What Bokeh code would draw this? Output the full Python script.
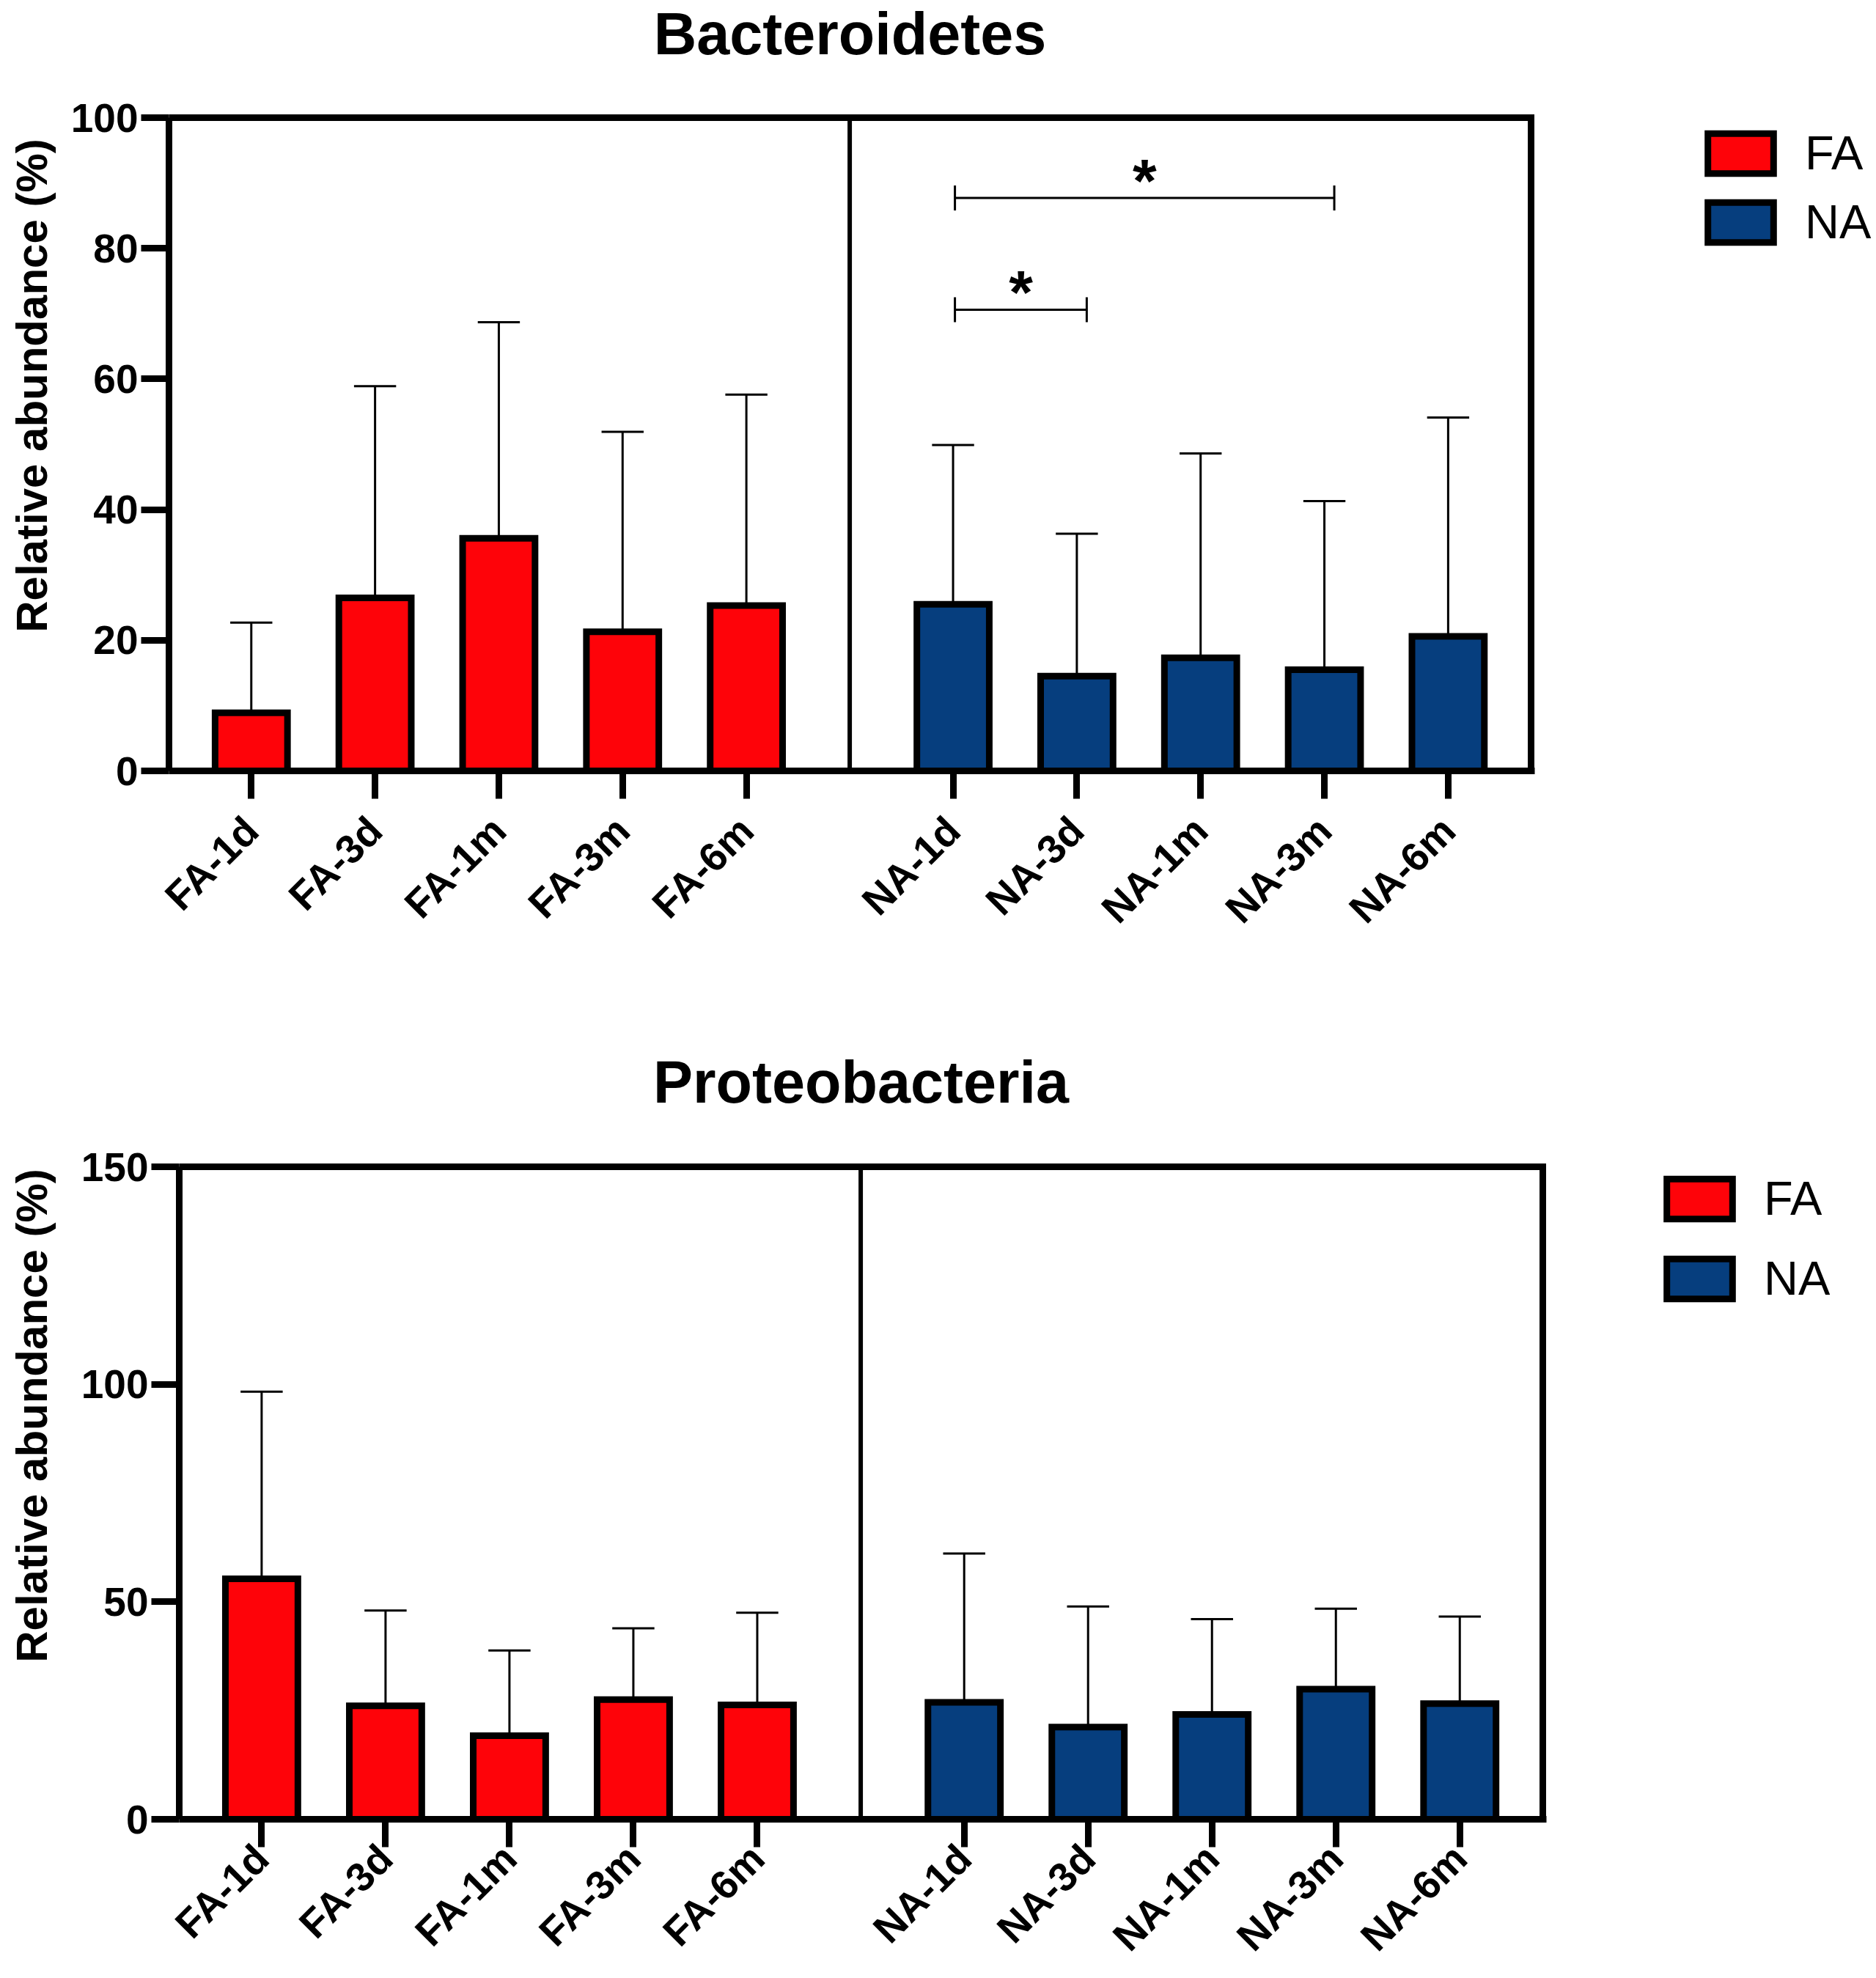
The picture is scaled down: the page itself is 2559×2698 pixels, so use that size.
import math
from bokeh.plotting import figure
from bokeh.models import Range1d, FixedTicker, Legend, LegendItem
from bokeh.embed import file_html
from bokeh.resources import INLINE
from bokeh.core.properties import value

# ---------------- data ----------------
fa_labels = ["FA-1d", "FA-3d", "FA-1m", "FA-3m", "FA-6m"]
na_labels = ["NA-1d", "NA-3d", "NA-1m", "NA-3m", "NA-6m"]

bact_fa_mean = [8.9, 26.5, 35.6, 21.3, 25.3]
bact_fa_upper = [22.7, 58.9, 68.7, 51.9, 57.6]
bact_na_mean = [25.5, 14.5, 17.3, 15.5, 20.6]
bact_na_upper = [49.9, 36.3, 48.6, 41.3, 54.1]

prot_fa_mean = [55.3, 26.1, 19.2, 27.5, 26.3]
prot_fa_upper = [98.3, 48.0, 38.8, 43.9, 47.5]
prot_na_mean = [26.9, 21.2, 24.1, 29.9, 26.6]
prot_na_upper = [61.1, 48.9, 46.0, 48.4, 46.6]

bact_yticks = [0, 20, 40, 60, 80, 100]
prot_yticks = [0, 50, 100, 150]

# significance brackets (indices into NA group), bracket height, label
bact_sig_from = [0, 0]
bact_sig_to = [3, 1]
bact_sig_y = [87.7, 70.6]
bact_sig_text = ["*", "*"]

legend_labels = ["FA", "NA"]

RED = "#FE0309"
BLUE = "#063E7E"
FONT = "Liberation Sans"

# ---------------- layout constants ----------------
NA_START = 5.67
fa_x = [float(i) for i in range(len(fa_labels))]
na_x = [round(NA_START + i, 2) for i in range(len(na_labels))]
divider_x = (fa_x[-1] + na_x[0]) / 2.0
X_START, X_BORDER = -0.665, 10.34
BAR_W = 0.585
CAP_W = 0.34
FIG_W = 2559
TEXT_SHIFT = 30        # px correction for text baseline placement


def make_panel(title, fa_mean, fa_upper, na_mean, na_upper, yticks,
               height, mb_left, mb_bottom, box_px_w, plot_px_h, above_px,
               title_above_px, xlabel_standoff, axis_label_standoff,
               leg_x, leg_y, leg_spacing, sig=None):
    ymax = yticks[-1]
    frame_w = FIG_W - mb_left
    ppu_x = box_px_w / (X_BORDER - X_START)
    x_end = X_START + frame_w / ppu_x
    ppu_y = plot_px_h / ymax
    y_end = ymax + above_px / ppu_y

    p = figure(width=FIG_W, height=height, output_backend="svg",
               toolbar_location=None,
               x_range=Range1d(X_START, x_end), y_range=Range1d(0, y_end),
               min_border_left=mb_left, min_border_right=0,
               min_border_top=0, min_border_bottom=mb_bottom)
    p.xgrid.visible = False
    p.ygrid.visible = False
    p.outline_line_color = None
    p.background_fill_color = "white"
    p.border_fill_color = "white"

    # title (centered over the plot box)
    p.text(x=[(X_START + X_BORDER) / 2],
           y=[ymax + (title_above_px + TEXT_SHIFT) / ppu_y],
           text=[title], text_font=value(FONT), text_font_size="81px",
           text_font_style="bold", text_align="center", text_baseline="alphabetic",
           text_color="black")

    # box: top and right borders
    p.segment(x0=[X_START], y0=[ymax], x1=[X_BORDER], y1=[ymax],
              line_color="black", line_width=9, line_cap="square")
    p.segment(x0=[X_BORDER], y0=[0], x1=[X_BORDER], y1=[ymax],
              line_color="black", line_width=9, line_cap="square")
    # divider between groups
    p.segment(x0=[divider_x], y0=[0], x1=[divider_x], y1=[ymax],
              line_color="black", line_width=6)

    bar_renderers = []
    for xs, mean, upper, color in ((fa_x, fa_mean, fa_upper, RED),
                                   (na_x, na_mean, na_upper, BLUE)):
        p.segment(x0=xs, y0=mean, x1=xs, y1=upper,
                  line_color="black", line_width=3)
        p.segment(x0=[x - CAP_W / 2 for x in xs], y0=upper,
                  x1=[x + CAP_W / 2 for x in xs], y1=upper,
                  line_color="black", line_width=3)
        r = p.vbar(x=xs, top=mean, bottom=0, width=BAR_W, fill_color=color,
                   line_color="black", line_width=9, line_join="miter")
        bar_renderers.append(r)

    if sig is not None:
        s_from, s_to, s_y, s_text = sig
        x0 = [na_x[i] + 0.015 for i in s_from]
        x1 = [na_x[j] + 0.08 for j in s_to]
        cap = 17 / ppu_y
        p.segment(x0=x0, y0=s_y, x1=x1, y1=s_y, line_color="black", line_width=3)
        p.segment(x0=x0, y0=[y - cap for y in s_y], x1=x0, y1=[y + cap for y in s_y],
                  line_color="black", line_width=3)
        p.segment(x0=x1, y0=[y - cap for y in s_y], x1=x1, y1=[y + cap for y in s_y],
                  line_color="black", line_width=3)
        p.text(x=[(a + b) / 2 for a, b in zip(x0, x1)], y=[y + 23 / ppu_y for y in s_y],
               text=s_text, text_font=value(FONT), text_font_size="84px",
               text_font_style="bold", text_align="center", text_baseline="alphabetic",
               text_color="black")

    # legend (inside the extended frame, to the right of the box)
    legend = Legend(items=[LegendItem(label=l, renderers=[r])
                           for l, r in zip(legend_labels, bar_renderers)],
                    location=(leg_x, leg_y), glyph_width=112, glyph_height=68,
                    label_standoff=32, spacing=leg_spacing, padding=0, margin=0,
                    border_line_alpha=0, background_fill_alpha=0,
                    label_text_font=FONT, label_text_font_size="65px",
                    label_text_color="black")
    p.add_layout(legend)

    # axes
    ticks = fa_x + na_x
    p.xaxis.ticker = FixedTicker(ticks=ticks)
    p.xaxis.major_label_overrides = {t: l for t, l in zip(ticks, fa_labels + na_labels)}
    p.xaxis.bounds = (X_START, X_BORDER + 4.5 / ppu_x)
    p.yaxis.bounds = (0, ymax)
    p.xaxis.minor_tick_line_color = None
    p.yaxis.ticker = FixedTicker(ticks=yticks)
    p.yaxis.minor_tick_line_color = None
    for ax in (p.xaxis[0], p.yaxis[0]):
        ax.axis_line_width = 9
        ax.axis_line_color = "black"
        ax.major_tick_line_width = 9
        ax.major_tick_line_color = "black"
        ax.major_tick_in = 0
        ax.major_tick_out = 38
        ax.major_label_text_font = FONT
        ax.major_label_text_font_size = "55px"
        ax.major_label_text_font_style = "bold"
        ax.major_label_text_color = "black"
    p.xaxis.major_label_orientation = math.pi / 4
    p.xaxis.major_label_standoff = xlabel_standoff
    p.yaxis.major_label_standoff = 4
    p.yaxis.axis_label = "Relative abundance (%)"
    p.yaxis.axis_label_text_font = FONT
    p.yaxis.axis_label_text_font_size = "60px"
    p.yaxis.axis_label_text_font_style = "bold"
    p.yaxis.axis_label_text_color = "black"
    p.yaxis.axis_label_standoff = axis_label_standoff
    return p


# panel 1: plot box x 230..2088, y 160..1051
p1 = make_panel("Bacteroidetes", bact_fa_mean, bact_fa_upper, bact_na_mean, bact_na_upper,
                bact_yticks, height=1380, mb_left=230, mb_bottom=329,
                box_px_w=1858, plot_px_h=891, above_px=160,
                title_above_px=85, xlabel_standoff=34, axis_label_standoff=17,
                leg_x=2088, leg_y=711, leg_spacing=19,
                sig=(bact_sig_from, bact_sig_to, bact_sig_y, bact_sig_text))

# panel 2: plot box x 244..2104, y 1591..2481
p2 = make_panel("Proteobacteria", prot_fa_mean, prot_fa_upper, prot_na_mean, prot_na_upper,
                prot_yticks, height=1318, mb_left=244, mb_bottom=217,
                box_px_w=1860, plot_px_h=890, above_px=211,
                title_above_px=86, xlabel_standoff=6, axis_label_standoff=31,
                leg_x=2018, leg_y=700, leg_spacing=34,
                sig=None)

open("out.html", "w").write(file_html([p1, p2], INLINE))
